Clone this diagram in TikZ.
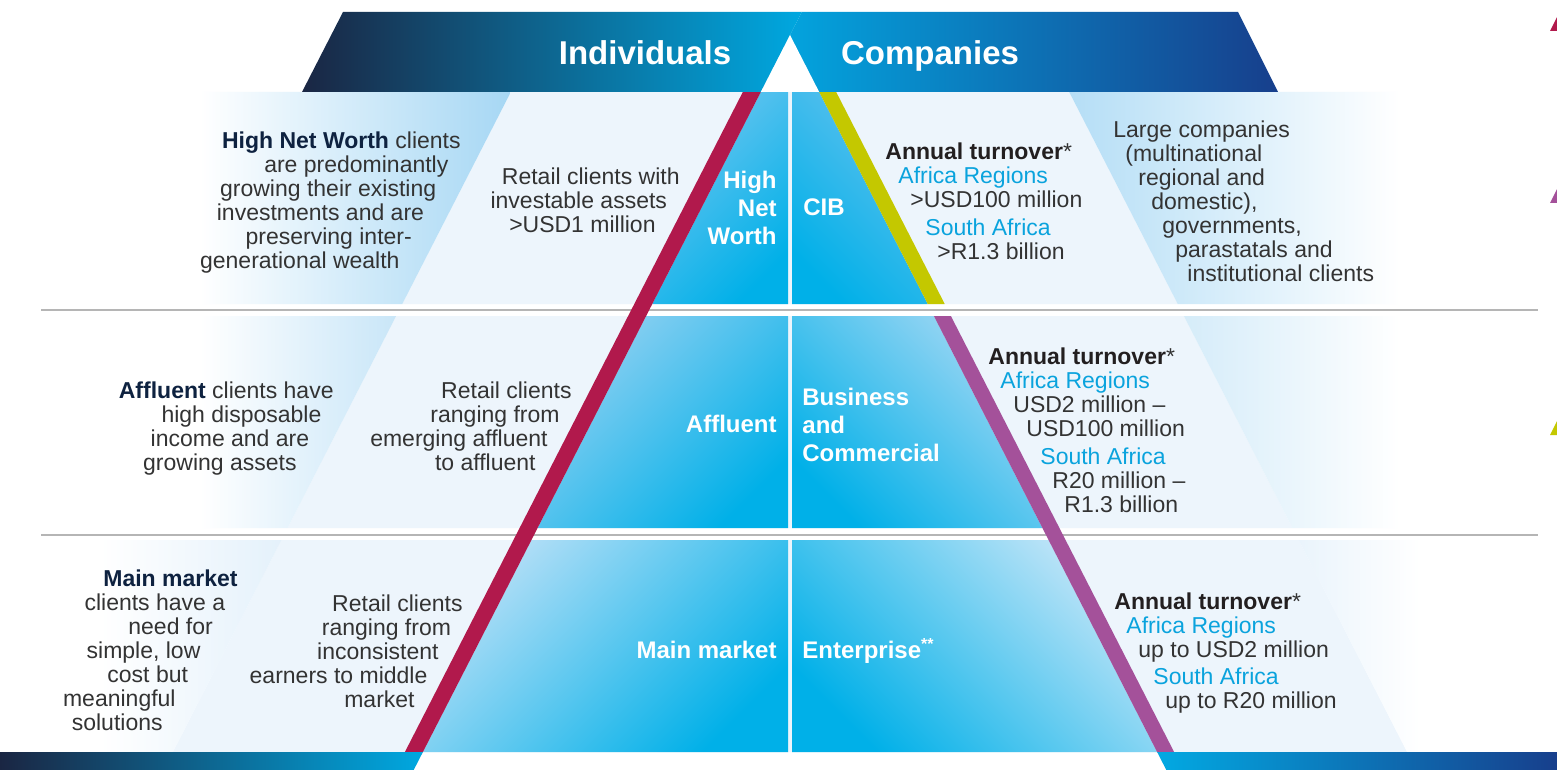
\documentclass[tikz,border=0pt]{standalone}
\usepackage{fontspec}
\setmainfont{Liberation Sans}
\definecolor{navyD}{HTML}{1A2643}
\definecolor{tealM}{HTML}{4A6F8C}
\definecolor{cyanB}{HTML}{00A8E0}
\definecolor{bR1}{HTML}{02A9E2}
\definecolor{bR2}{HTML}{5288CB}
\definecolor{bR3}{HTML}{173F8C}
\definecolor{pale}{HTML}{EDF5FC}
\definecolor{bandA}{HTML}{A6D7F4}
\definecolor{bandA2}{HTML}{B5DEF6}
\definecolor{bandB}{HTML}{C9E6F8}
\definecolor{bandB2}{HTML}{D5ECF9}
\definecolor{bandC}{HTML}{E4F1FB}
\definecolor{bandC2}{HTML}{EAF4FC}
\definecolor{cyanP}{HTML}{00B0E8}
\definecolor{cellA}{HTML}{6EC6F0}
\definecolor{cellA2}{HTML}{62C1EE}
\definecolor{cellB}{HTML}{92D1F2}
\definecolor{cellB2}{HTML}{A3D8F4}
\definecolor{cellC}{HTML}{B9E0F7}
\definecolor{cellC2}{HTML}{C5E6F8}
\definecolor{redS}{HTML}{B1194C}
\definecolor{yelS}{HTML}{C4C800}
\definecolor{purS}{HTML}{A4519A}
\definecolor{grayL}{HTML}{B5B5B5}
\definecolor{txt}{HTML}{333333}
\definecolor{navyT}{HTML}{0E2240}
\definecolor{darkT}{HTML}{231F20}
\definecolor{cyanT}{HTML}{0AA3DD}
\newcommand\hb[1]{{\bfseries\color{navyT}#1}}
\newcommand\cyt[1]{{\color{cyanT}#1}}
\newcommand\annt{{\bfseries\color{darkT}Annual turnover}*}
\newcommand\sgap[1]{\rule{#1pt}{0pt}}
\tikzset{
  body/.style={font=\fontsize{11.5}{12}\selectfont, text=txt, inner sep=0pt},
  lab/.style={font=\bfseries\fontsize{12}{14}\selectfont, text=white, inner sep=0pt},
  hdr/.style={font=\bfseries\fontsize{16.5}{18}\selectfont, text=white, inner sep=0pt},
  grayline/.style={draw=grayL, line width=0.8pt}
}
\begin{document}
\begin{tikzpicture}[x=0.5pt,y=-0.5pt,
  declare function={Lx(\q)=790-0.512*(\q-35); Rx(\q)=790+0.512*(\q-35);
                    OLx(\q)=540-0.512*(\q-35); ORx(\q)=1040+0.512*(\q-35);}]
\useasboundingbox[fill=white] (0,0) rectangle (1557,770);

% row backgrounds and pyramid cells
\foreach \tp/\bt/\lc/\rc/\xs/\xe/\cl/\cr in {92/304/bandA/bandA2/200/1400/cellA/cellA2,
   316/528/bandB/bandB2/200/1400/cellB/cellB2,
   540/752/bandC/bandC2/100/1420/cellC/cellC2}{
  \fill[pale] ({OLx(\tp)},\tp) -- ({ORx(\tp)},\tp) -- ({ORx(\bt)},\bt) -- ({OLx(\bt)},\bt) -- cycle;
  \begin{scope}
    \clip (0,\tp) -- ({OLx(\tp)},\tp) -- ({OLx(\bt)},\bt) -- (0,\bt) -- cycle;
    \shade[left color=white, right color=\lc] (\xs,\tp) rectangle ({OLx(\tp)},\bt);
  \end{scope}
  \begin{scope}
    \clip ({ORx(\tp)},\tp) -- (1557,\tp) -- (1557,\bt) -- ({ORx(\bt)},\bt) -- cycle;
    \shade[left color=\rc, right color=white] ({ORx(\tp)},\tp) rectangle (\xe,\bt);
  \end{scope}
}
\draw[grayline] (41,310) -- (1538,310);
\draw[grayline] (41,535) -- (1538,535);
\foreach \tp/\bt/\cl/\cr in {92/304/cellA/cellA2, 316/528/cellB/cellB2, 540/752/cellC/cellC2}{
  \shade[top color=\cl, bottom color=cyanP, shading angle=45]
    ({Lx(\tp)},\tp) -- (788,\tp) -- (788,\bt) -- ({Lx(\bt)},\bt) -- cycle;
  \shade[top color=\cr, bottom color=cyanP, shading angle=-45]
    (792,\tp) -- ({Rx(\tp)},\tp) -- ({Rx(\bt)},\bt) -- (792,\bt) -- cycle;
}
% stripes
\fill[redS] ({Lx(92)-18},92) -- ({Lx(92)},92) -- ({Lx(752)},752) -- ({Lx(752)-18},752) -- cycle;
\fill[yelS] ({Rx(92)},92) -- ({Rx(92)+17},92) -- ({Rx(304)+17},304) -- ({Rx(304)},304) -- cycle;
\fill[purS] ({Rx(316)},316) -- ({Rx(316)+17},316) -- ({Rx(752)+17},752) -- ({Rx(752)},752) -- cycle;

% top banner
\shade[left color=bR1, middle color=bR2, right color=bR3]
  ({Lx(12)},12) -- (1238,12) -- (1278,92) -- ({Lx(92)},92) -- cycle;
\shade[left color=navyD, middle color=tealM, right color=cyanB]
  (343,12) -- ({Lx(12)},12) -- ({Lx(92)},92) -- (302,92) -- cycle;
\fill[white] ({Lx(92)},92) -- (790,35) -- ({Rx(92)},92) -- cycle;

% bottom bar
\shade[left color=navyD, middle color=tealM, right color=cyanB]
  (0,752) -- ({Lx(752)},752) -- ({Lx(770)},770) -- (0,770) -- cycle;
\shade[left color=bR1, middle color=bR2, right color=bR3]
  ({Rx(752)},752) -- (1557,752) -- (1557,770) -- ({Rx(770)},770) -- cycle;

% edge triangles
\fill[redS] (1550,31) -- (1558,31) -- (1558,15) -- cycle;
\fill[purS] (1550,203) -- (1558,203) -- (1558,187) -- cycle;
\fill[yelS] (1550,435) -- (1558,435) -- (1558,419) -- cycle;

% headers
\node[hdr, anchor=base] (ind) at (645,65) {Individuals};
\node[hdr, anchor=base] (comp) at (930,65) {Companies};

% pyramid labels
\node[lab, align=right, anchor=north east] (lhnw) at (777,171) {High\\Net\\Worth};
\node[lab, anchor=base east] (laff) at (777,432) {Affluent};
\node[lab, anchor=base east] (lmm) at (777,658) {Main market};
\node[lab, anchor=base west] (lcib) at (803,216) {CIB};
\node[lab, align=left, anchor=north west] (lbc) at (802,388) {Business\\and\\Commercial};
\node[lab, anchor=base west] (lent) at (802,658) {Enterprise\textsuperscript{**}};

% left descriptions
\node[body, align=right, anchor=north east] (hnwd) at (461,131)
 {\hb{High Net Worth} clients\\are predominantly\sgap{6.1}\\growing their existing\sgap{12.2}\\
  investments and are\sgap{18.3}\\preserving inter-\sgap{24.4}\\generational wealth\sgap{30.5}};
\node[body, align=right, anchor=north east] (rhnw) at (680,167)
 {Retail clients with\\investable assets\sgap{6.3}\\>USD1 million\sgap{12}};
\node[body, align=right, anchor=north east] (affd) at (334,381)
 {\hb{Affluent} clients have\\high disposable\sgap{6.1}\\income and are\sgap{12.2}\\growing assets\sgap{18.5}};
\node[body, align=right, anchor=north east] (raff) at (572,381)
 {Retail clients\\ranging from\sgap{6}\\emerging affluent\sgap{12}\\to affluent\sgap{18}};
\node[body, align=right, anchor=north east] (mmd) at (238,569)
 {\hb{Main market}\\clients have a\sgap{6.2}\\need for\sgap{12.4}\\simple, low\sgap{18.6}\\cost but\sgap{24.8}\\meaningful\sgap{31}\\solutions\sgap{37.5}};
\node[body, align=right, anchor=north east] (rmm) at (463,594)
 {Retail clients\\ranging from\sgap{5.8}\\inconsistent\sgap{12}\\earners to middle\sgap{17.6}\\market\sgap{24}};

% right descriptions
\node[body, align=left, anchor=north west] (cibt) at (885,142)
 {\annt\\\sgap{6.5}\cyt{Africa Regions}\\\sgap{12.5}>USD100 million\\[2pt]\sgap{20}\cyt{South Africa}\\\sgap{26}>R1.3 billion};
\node[body, align=left, anchor=north west] (large) at (1113,120)
 {Large companies\\\sgap{6}(multinational\\\sgap{12.5}regional and\\\sgap{19}domestic),\\\sgap{24.5}governments,\\\sgap{31}parastatals and\\\sgap{37}institutional clients};
\node[body, align=left, anchor=north west] (bct) at (988,347)
 {\annt\\\sgap{6}\cyt{Africa Regions}\\\sgap{12.5}USD2 million --\\\sgap{19}USD100 million\\[2pt]\sgap{26}\cyt{South Africa}\\\sgap{32}R20 million --\\\sgap{38}R1.3 billion};
\node[body, align=left, anchor=north west] (entt) at (1114,592)
 {\annt\\\sgap{6}\cyt{Africa Regions}\\\sgap{12}up to USD2 million\\[1.5pt]\sgap{19.5}\cyt{South Africa}\\\sgap{25.5}up to R20 million};
\end{tikzpicture}
\end{document}
